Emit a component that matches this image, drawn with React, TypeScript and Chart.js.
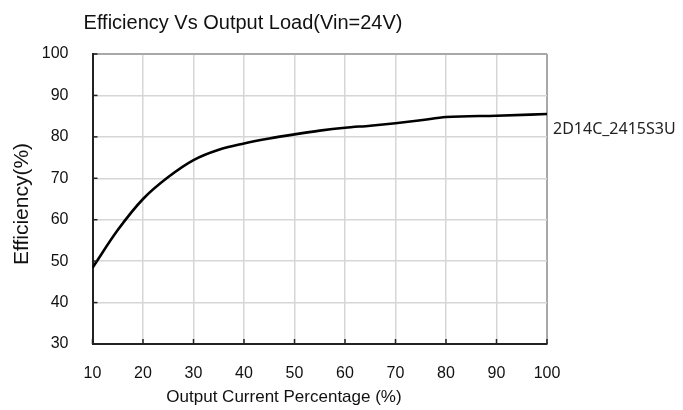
import React, { useEffect, useRef } from "react";
import { Chart, registerables } from "chart.js";

Chart.register(...registerables);

const loadPct = [10, 15, 20, 25, 30, 35, 40, 45, 50, 55, 60, 65, 70, 75, 80, 90, 100];
const efficiency = [48.4, 57.5, 65.0, 70.3, 74.4, 76.9, 78.4, 79.6, 80.6, 81.5, 82.2, 82.7, 83.3, 84.0, 84.8, 85.1, 85.5];
const xTickValues = [10, 20, 30, 40, 50, 60, 70, 80, 90, 100];
const yTickValues = [30, 40, 50, 60, 70, 80, 90, 100];
const seriesName = "2D14C_2415S3U";
const chartTitle = "Efficiency Vs Output Load(Vin=24V)";
const xTitle = "Output Current Percentage (%)";
const yTitle = "Efficiency(%)";

const FONT = "'Liberation Sans', Arial, sans-serif";

const overlay = {
  id: "overlay",
  afterDraw(chart: any) {
    const { ctx, chartArea } = chart;
    const xs = chart.scales.x;
    const ys = chart.scales.y;
    ctx.save();
    // inward tick marks
    ctx.strokeStyle = "#222";
    ctx.lineWidth = 1.5;
    yTickValues.forEach((v) => {
      const y = ys.getPixelForValue(v);
      ctx.beginPath();
      ctx.moveTo(chartArea.left, y);
      ctx.lineTo(chartArea.left + 5, y);
      ctx.stroke();
    });
    xTickValues.forEach((v) => {
      const x = xs.getPixelForValue(v);
      ctx.beginPath();
      ctx.moveTo(x, chartArea.bottom);
      ctx.lineTo(x, chartArea.bottom - 5);
      ctx.stroke();
    });
    ctx.fillStyle = "#111";
    ctx.textAlign = "center";
    ctx.textBaseline = "middle";
    ctx.font = `20px ${FONT}`;
    ctx.fillText(chartTitle, 243, 23);
    ctx.font = `17px ${FONT}`;
    ctx.fillText(xTitle, 284, 397);
    ctx.save();
    ctx.translate(22, 204);
    ctx.rotate(-Math.PI / 2);
    ctx.font = `21px ${FONT}`;
    ctx.fillText(yTitle, 0, 0);
    ctx.restore();
    // series label
    const last = loadPct.length - 1;
    const ly = ys.getPixelForValue(efficiency[last]);
    ctx.textAlign = "left";
    ctx.font = `16px 'Noto Sans', sans-serif`;
    ctx.fillStyle = "#222";
    ctx.fillText(seriesName, 553, ly + 15);
    ctx.restore();
  },
};

export default function App() {
  const ref = useRef<HTMLCanvasElement>(null);
  useEffect(() => {
    if (!ref.current) return;
    const chart = new Chart(ref.current, {
      type: "line",
      data: {
        datasets: [
          {
            label: seriesName,
            data: loadPct.map((x, i) => ({ x, y: efficiency[i] })),
            borderColor: "#000",
            borderWidth: 2.6,
            pointRadius: 0,
            cubicInterpolationMode: "monotone",
            fill: false,
          },
        ],
      },
      options: {
        responsive: false,
        animation: false,
        layout: { padding: { top: 54, right: 136, left: 0, bottom: 0 } },
        plugins: { legend: { display: false }, title: { display: false }, tooltip: { enabled: false } },
        scales: {
          x: {
            type: "linear",
            min: 10,
            max: 100,
            afterBuildTicks: (s: any) => {
              s.ticks = xTickValues.map((v) => ({ value: v }));
            },
            afterFit: (s: any) => {
              s.height = 66;
            },
            ticks: { padding: 20, color: "#111", font: { family: FONT, size: 16 } },
            grid: {
              drawTicks: false,
              color: (c: any) => (c.tick && c.tick.value === 100 ? "#a8a8a8" : "#d6d6d6"),
              lineWidth: (c: any) => (c.tick && c.tick.value === 100 ? 2 : 1.5),
            },
            border: { color: "#222", width: 2 },
          },
          y: {
            type: "linear",
            min: 30,
            max: 100,
            afterBuildTicks: (s: any) => {
              s.ticks = yTickValues.map((v) => ({ value: v }));
            },
            afterFit: (s: any) => {
              s.width = 92.5;
            },
            ticks: { padding: 24, color: "#111", font: { family: FONT, size: 16 } },
            grid: {
              drawTicks: false,
              color: (c: any) => (c.tick && c.tick.value === 100 ? "#a8a8a8" : "#d6d6d6"),
              lineWidth: (c: any) => (c.tick && c.tick.value === 100 ? 2 : 1.5),
            },
            border: { color: "#222", width: 2 },
          },
        },
      },
      plugins: [overlay],
    } as any);
    return () => chart.destroy();
  }, []);
  return (
    <div style={{ position: "fixed", left: 0, top: 0, width: 683, height: 410, background: "#fff" }}>
      <canvas ref={ref} width={683} height={410} style={{ width: 683, height: 410 }} />
    </div>
  );
}
